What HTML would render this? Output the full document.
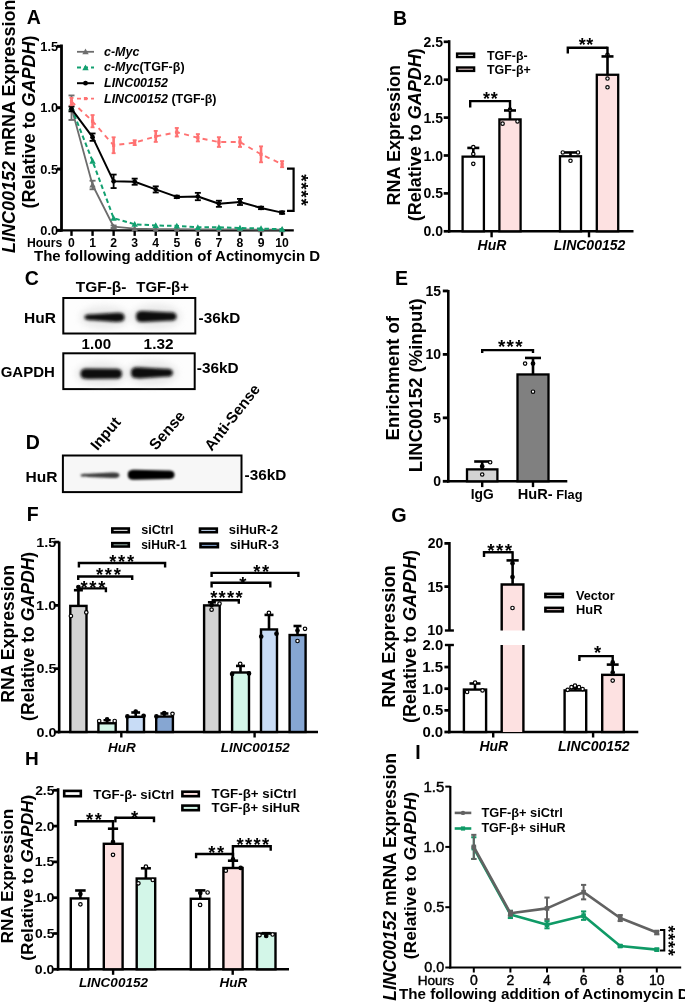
<!DOCTYPE html><html><head><meta charset="utf-8"><style>html,body{margin:0;padding:0;background:#fff;}svg{display:block;filter:blur(0.45px);}text{font-family:"Liberation Sans", sans-serif;}</style></head><body>
<svg width="685" height="1004" viewBox="0 0 685 1004">
<defs><filter id="blur1" x="-20%" y="-50%" width="140%" height="200%"><feGaussianBlur stdDeviation="1.6"/></filter><filter id="blur2" x="-20%" y="-50%" width="140%" height="200%"><feGaussianBlur stdDeviation="1.1"/></filter><filter id="blur3" x="-30%" y="-80%" width="160%" height="260%"><feGaussianBlur stdDeviation="3"/></filter></defs>
<rect width="685" height="1004" fill="#fff"/>
<text x="26.80" y="24.40" font-size="19.5" text-anchor="start" font-weight="bold" font-style="normal" fill="#000">A</text>
<line x1="61.50" y1="44.50" x2="61.50" y2="231.60" stroke="#000" stroke-width="2.8"/>
<line x1="57.00" y1="230.40" x2="61.50" y2="230.40" stroke="#000" stroke-width="3.024"/>
<text x="58.10" y="234.90" font-size="12.8" text-anchor="end" font-weight="bold" font-style="normal" fill="#000">0.0</text>
<line x1="57.00" y1="169.05" x2="61.50" y2="169.05" stroke="#000" stroke-width="3.024"/>
<text x="58.10" y="173.55" font-size="12.8" text-anchor="end" font-weight="bold" font-style="normal" fill="#000">0.5</text>
<line x1="57.00" y1="107.70" x2="61.50" y2="107.70" stroke="#000" stroke-width="3.024"/>
<text x="58.10" y="112.20" font-size="12.8" text-anchor="end" font-weight="bold" font-style="normal" fill="#000">1.0</text>
<line x1="57.00" y1="46.35" x2="61.50" y2="46.35" stroke="#000" stroke-width="3.024"/>
<text x="58.10" y="50.85" font-size="12.8" text-anchor="end" font-weight="bold" font-style="normal" fill="#000">1.5</text>
<line x1="60.20" y1="230.40" x2="293.80" y2="230.40" stroke="#000" stroke-width="2.4"/>
<line x1="71.50" y1="230.40" x2="71.50" y2="235.90" stroke="#000" stroke-width="2.4"/>
<text x="71.50" y="247.20" font-size="12.2" text-anchor="middle" font-weight="bold" font-style="normal" fill="#000">0</text>
<line x1="92.56" y1="230.40" x2="92.56" y2="235.90" stroke="#000" stroke-width="2.4"/>
<text x="92.56" y="247.20" font-size="12.2" text-anchor="middle" font-weight="bold" font-style="normal" fill="#000">1</text>
<line x1="113.62" y1="230.40" x2="113.62" y2="235.90" stroke="#000" stroke-width="2.4"/>
<text x="113.62" y="247.20" font-size="12.2" text-anchor="middle" font-weight="bold" font-style="normal" fill="#000">2</text>
<line x1="134.68" y1="230.40" x2="134.68" y2="235.90" stroke="#000" stroke-width="2.4"/>
<text x="134.68" y="247.20" font-size="12.2" text-anchor="middle" font-weight="bold" font-style="normal" fill="#000">3</text>
<line x1="155.74" y1="230.40" x2="155.74" y2="235.90" stroke="#000" stroke-width="2.4"/>
<text x="155.74" y="247.20" font-size="12.2" text-anchor="middle" font-weight="bold" font-style="normal" fill="#000">4</text>
<line x1="176.80" y1="230.40" x2="176.80" y2="235.90" stroke="#000" stroke-width="2.4"/>
<text x="176.80" y="247.20" font-size="12.2" text-anchor="middle" font-weight="bold" font-style="normal" fill="#000">5</text>
<line x1="197.86" y1="230.40" x2="197.86" y2="235.90" stroke="#000" stroke-width="2.4"/>
<text x="197.86" y="247.20" font-size="12.2" text-anchor="middle" font-weight="bold" font-style="normal" fill="#000">6</text>
<line x1="218.92" y1="230.40" x2="218.92" y2="235.90" stroke="#000" stroke-width="2.4"/>
<text x="218.92" y="247.20" font-size="12.2" text-anchor="middle" font-weight="bold" font-style="normal" fill="#000">7</text>
<line x1="239.98" y1="230.40" x2="239.98" y2="235.90" stroke="#000" stroke-width="2.4"/>
<text x="239.98" y="247.20" font-size="12.2" text-anchor="middle" font-weight="bold" font-style="normal" fill="#000">8</text>
<line x1="261.04" y1="230.40" x2="261.04" y2="235.90" stroke="#000" stroke-width="2.4"/>
<text x="261.04" y="247.20" font-size="12.2" text-anchor="middle" font-weight="bold" font-style="normal" fill="#000">9</text>
<line x1="282.10" y1="230.40" x2="282.10" y2="235.90" stroke="#000" stroke-width="2.4"/>
<text x="282.10" y="247.20" font-size="12.2" text-anchor="middle" font-weight="bold" font-style="normal" fill="#000">10</text>
<text x="62.20" y="247.00" font-size="12.2" text-anchor="end" font-weight="bold" font-style="normal" fill="#000">Hours</text>
<text x="34.00" y="260.80" font-size="15" text-anchor="start" font-weight="bold" font-style="normal" fill="#000">The following addition of Actinomycin D</text>
<text x="15.20" y="253.00" font-size="18" text-anchor="start" font-weight="bold" font-style="normal" fill="#000" transform="rotate(-90 15.20 253.00)"><tspan font-style="italic">LINC00152</tspan> mRNA Expression</text>
<text x="35.00" y="208.50" font-size="18" text-anchor="start" font-weight="bold" font-style="normal" fill="#000" transform="rotate(-90 35.00 208.50)">(Relative to <tspan font-style="italic">GAPDH</tspan>)</text>
<polyline points="71.50,107.70 92.56,185.00 113.62,226.72 134.68,228.56 155.74,229.17 176.80,229.17 197.86,229.42 218.92,229.42 239.98,229.42 261.04,229.66 282.10,229.66" fill="none" stroke="#6d6d6d" stroke-width="1.8" stroke-linejoin="round"/>
<line x1="71.50" y1="119.97" x2="71.50" y2="95.43" stroke="#6d6d6d" stroke-width="1.8"/>
<line x1="68.50" y1="95.43" x2="74.50" y2="95.43" stroke="#6d6d6d" stroke-width="1.8"/>
<line x1="68.50" y1="119.97" x2="74.50" y2="119.97" stroke="#6d6d6d" stroke-width="1.8"/>
<polygon points="71.50,104.50 74.70,110.26 68.30,110.26" fill="#6d6d6d"/>
<line x1="92.56" y1="189.30" x2="92.56" y2="180.71" stroke="#6d6d6d" stroke-width="1.8"/>
<line x1="89.56" y1="180.71" x2="95.56" y2="180.71" stroke="#6d6d6d" stroke-width="1.8"/>
<line x1="89.56" y1="189.30" x2="95.56" y2="189.30" stroke="#6d6d6d" stroke-width="1.8"/>
<polygon points="92.56,181.80 95.76,187.56 89.36,187.56" fill="#6d6d6d"/>
<line x1="113.62" y1="227.95" x2="113.62" y2="225.49" stroke="#6d6d6d" stroke-width="1.8"/>
<line x1="110.62" y1="225.49" x2="116.62" y2="225.49" stroke="#6d6d6d" stroke-width="1.8"/>
<line x1="110.62" y1="227.95" x2="116.62" y2="227.95" stroke="#6d6d6d" stroke-width="1.8"/>
<polygon points="113.62,223.52 116.82,229.28 110.42,229.28" fill="#6d6d6d"/>
<polygon points="134.68,225.36 137.88,231.12 131.48,231.12" fill="#6d6d6d"/>
<polygon points="155.74,225.97 158.94,231.73 152.54,231.73" fill="#6d6d6d"/>
<polygon points="176.80,225.97 180.00,231.73 173.60,231.73" fill="#6d6d6d"/>
<polygon points="197.86,226.22 201.06,231.98 194.66,231.98" fill="#6d6d6d"/>
<polygon points="218.92,226.22 222.12,231.98 215.72,231.98" fill="#6d6d6d"/>
<polygon points="239.98,226.22 243.18,231.98 236.78,231.98" fill="#6d6d6d"/>
<polygon points="261.04,226.46 264.24,232.22 257.84,232.22" fill="#6d6d6d"/>
<polygon points="282.10,226.46 285.30,232.22 278.90,232.22" fill="#6d6d6d"/>
<polyline points="71.50,107.70 92.56,161.07 113.62,218.13 134.68,224.27 155.74,225.49 176.80,225.86 197.86,227.33 218.92,227.33 239.98,227.95 261.04,228.56 282.10,229.17" fill="none" stroke="#12a070" stroke-width="2.0" stroke-dasharray="4.5,3" stroke-linejoin="round"/>
<polygon points="71.50,104.50 74.70,110.26 68.30,110.26" fill="#12a070"/>
<polygon points="92.56,157.87 95.76,163.63 89.36,163.63" fill="#12a070"/>
<polygon points="113.62,214.93 116.82,220.69 110.42,220.69" fill="#12a070"/>
<polygon points="134.68,221.07 137.88,226.83 131.48,226.83" fill="#12a070"/>
<polygon points="155.74,222.29 158.94,228.05 152.54,228.05" fill="#12a070"/>
<polygon points="176.80,222.66 180.00,228.42 173.60,228.42" fill="#12a070"/>
<polygon points="197.86,224.13 201.06,229.89 194.66,229.89" fill="#12a070"/>
<polygon points="218.92,224.13 222.12,229.89 215.72,229.89" fill="#12a070"/>
<polygon points="239.98,224.75 243.18,230.51 236.78,230.51" fill="#12a070"/>
<polygon points="261.04,225.36 264.24,231.12 257.84,231.12" fill="#12a070"/>
<polygon points="282.10,225.97 285.30,231.73 278.90,231.73" fill="#12a070"/>
<polyline points="71.50,108.93 92.56,137.15 113.62,181.32 134.68,181.69 155.74,189.42 176.80,196.90 197.86,196.53 218.92,203.77 239.98,201.93 261.04,207.95 282.10,212.61" fill="none" stroke="#000" stroke-width="2.0" stroke-linejoin="round"/>
<line x1="71.50" y1="111.38" x2="71.50" y2="106.47" stroke="#000" stroke-width="1.8"/>
<line x1="68.50" y1="106.47" x2="74.50" y2="106.47" stroke="#000" stroke-width="1.8"/>
<line x1="68.50" y1="111.38" x2="74.50" y2="111.38" stroke="#000" stroke-width="1.8"/>
<circle cx="71.50" cy="108.93" r="2.4" fill="#000"/>
<line x1="92.56" y1="140.83" x2="92.56" y2="133.47" stroke="#000" stroke-width="1.8"/>
<line x1="89.56" y1="133.47" x2="95.56" y2="133.47" stroke="#000" stroke-width="1.8"/>
<line x1="89.56" y1="140.83" x2="95.56" y2="140.83" stroke="#000" stroke-width="1.8"/>
<circle cx="92.56" cy="137.15" r="2.4" fill="#000"/>
<line x1="113.62" y1="188.07" x2="113.62" y2="174.57" stroke="#000" stroke-width="1.8"/>
<line x1="110.62" y1="174.57" x2="116.62" y2="174.57" stroke="#000" stroke-width="1.8"/>
<line x1="110.62" y1="188.07" x2="116.62" y2="188.07" stroke="#000" stroke-width="1.8"/>
<circle cx="113.62" cy="181.32" r="2.4" fill="#000"/>
<line x1="134.68" y1="184.76" x2="134.68" y2="178.62" stroke="#000" stroke-width="1.8"/>
<line x1="131.68" y1="178.62" x2="137.68" y2="178.62" stroke="#000" stroke-width="1.8"/>
<line x1="131.68" y1="184.76" x2="137.68" y2="184.76" stroke="#000" stroke-width="1.8"/>
<circle cx="134.68" cy="181.69" r="2.4" fill="#000"/>
<line x1="155.74" y1="192.49" x2="155.74" y2="186.35" stroke="#000" stroke-width="1.8"/>
<line x1="152.74" y1="186.35" x2="158.74" y2="186.35" stroke="#000" stroke-width="1.8"/>
<line x1="152.74" y1="192.49" x2="158.74" y2="192.49" stroke="#000" stroke-width="1.8"/>
<circle cx="155.74" cy="189.42" r="2.4" fill="#000"/>
<line x1="176.80" y1="198.13" x2="176.80" y2="195.68" stroke="#000" stroke-width="1.8"/>
<line x1="173.80" y1="195.68" x2="179.80" y2="195.68" stroke="#000" stroke-width="1.8"/>
<line x1="173.80" y1="198.13" x2="179.80" y2="198.13" stroke="#000" stroke-width="1.8"/>
<circle cx="176.80" cy="196.90" r="2.4" fill="#000"/>
<line x1="197.86" y1="200.22" x2="197.86" y2="192.85" stroke="#000" stroke-width="1.8"/>
<line x1="194.86" y1="192.85" x2="200.86" y2="192.85" stroke="#000" stroke-width="1.8"/>
<line x1="194.86" y1="200.22" x2="200.86" y2="200.22" stroke="#000" stroke-width="1.8"/>
<circle cx="197.86" cy="196.53" r="2.4" fill="#000"/>
<line x1="218.92" y1="206.84" x2="218.92" y2="200.71" stroke="#000" stroke-width="1.8"/>
<line x1="215.92" y1="200.71" x2="221.92" y2="200.71" stroke="#000" stroke-width="1.8"/>
<line x1="215.92" y1="206.84" x2="221.92" y2="206.84" stroke="#000" stroke-width="1.8"/>
<circle cx="218.92" cy="203.77" r="2.4" fill="#000"/>
<line x1="239.98" y1="205.00" x2="239.98" y2="198.87" stroke="#000" stroke-width="1.8"/>
<line x1="236.98" y1="198.87" x2="242.98" y2="198.87" stroke="#000" stroke-width="1.8"/>
<line x1="236.98" y1="205.00" x2="242.98" y2="205.00" stroke="#000" stroke-width="1.8"/>
<circle cx="239.98" cy="201.93" r="2.4" fill="#000"/>
<line x1="261.04" y1="209.17" x2="261.04" y2="206.72" stroke="#000" stroke-width="1.8"/>
<line x1="258.04" y1="206.72" x2="264.04" y2="206.72" stroke="#000" stroke-width="1.8"/>
<line x1="258.04" y1="209.17" x2="264.04" y2="209.17" stroke="#000" stroke-width="1.8"/>
<circle cx="261.04" cy="207.95" r="2.4" fill="#000"/>
<line x1="282.10" y1="213.84" x2="282.10" y2="211.38" stroke="#000" stroke-width="1.8"/>
<line x1="279.10" y1="211.38" x2="285.10" y2="211.38" stroke="#000" stroke-width="1.8"/>
<line x1="279.10" y1="213.84" x2="285.10" y2="213.84" stroke="#000" stroke-width="1.8"/>
<circle cx="282.10" cy="212.61" r="2.4" fill="#000"/>
<polyline points="71.50,101.56 92.56,121.20 113.62,145.25 134.68,142.67 155.74,136.41 176.80,132.24 197.86,137.76 218.92,142.06 239.98,142.06 261.04,154.33 282.10,164.14" fill="none" stroke="#ff7272" stroke-width="1.9" stroke-dasharray="5,4.5" stroke-linejoin="round"/>
<line x1="71.50" y1="105.25" x2="71.50" y2="97.88" stroke="#ff7272" stroke-width="2.6"/>
<line x1="69.50" y1="97.88" x2="73.50" y2="97.88" stroke="#ff7272" stroke-width="1.8"/>
<line x1="69.50" y1="105.25" x2="73.50" y2="105.25" stroke="#ff7272" stroke-width="1.8"/>
<rect x="69.90" y="99.97" width="3.20" height="3.20" fill="#ff7272"/>
<line x1="92.56" y1="127.33" x2="92.56" y2="115.06" stroke="#ff7272" stroke-width="2.6"/>
<line x1="90.56" y1="115.06" x2="94.56" y2="115.06" stroke="#ff7272" stroke-width="1.8"/>
<line x1="90.56" y1="127.33" x2="94.56" y2="127.33" stroke="#ff7272" stroke-width="1.8"/>
<rect x="90.96" y="119.60" width="3.20" height="3.20" fill="#ff7272"/>
<line x1="113.62" y1="153.22" x2="113.62" y2="137.27" stroke="#ff7272" stroke-width="2.6"/>
<line x1="111.62" y1="137.27" x2="115.62" y2="137.27" stroke="#ff7272" stroke-width="1.8"/>
<line x1="111.62" y1="153.22" x2="115.62" y2="153.22" stroke="#ff7272" stroke-width="1.8"/>
<rect x="112.02" y="143.65" width="3.20" height="3.20" fill="#ff7272"/>
<line x1="134.68" y1="145.12" x2="134.68" y2="140.22" stroke="#ff7272" stroke-width="2.6"/>
<line x1="132.68" y1="140.22" x2="136.68" y2="140.22" stroke="#ff7272" stroke-width="1.8"/>
<line x1="132.68" y1="145.12" x2="136.68" y2="145.12" stroke="#ff7272" stroke-width="1.8"/>
<rect x="133.08" y="141.07" width="3.20" height="3.20" fill="#ff7272"/>
<line x1="155.74" y1="141.93" x2="155.74" y2="130.89" stroke="#ff7272" stroke-width="2.6"/>
<line x1="153.74" y1="130.89" x2="157.74" y2="130.89" stroke="#ff7272" stroke-width="1.8"/>
<line x1="153.74" y1="141.93" x2="157.74" y2="141.93" stroke="#ff7272" stroke-width="1.8"/>
<rect x="154.14" y="134.81" width="3.20" height="3.20" fill="#ff7272"/>
<line x1="176.80" y1="136.53" x2="176.80" y2="127.95" stroke="#ff7272" stroke-width="2.6"/>
<line x1="174.80" y1="127.95" x2="178.80" y2="127.95" stroke="#ff7272" stroke-width="1.8"/>
<line x1="174.80" y1="136.53" x2="178.80" y2="136.53" stroke="#ff7272" stroke-width="1.8"/>
<rect x="175.20" y="130.64" width="3.20" height="3.20" fill="#ff7272"/>
<line x1="197.86" y1="141.44" x2="197.86" y2="134.08" stroke="#ff7272" stroke-width="2.6"/>
<line x1="195.86" y1="134.08" x2="199.86" y2="134.08" stroke="#ff7272" stroke-width="1.8"/>
<line x1="195.86" y1="141.44" x2="199.86" y2="141.44" stroke="#ff7272" stroke-width="1.8"/>
<rect x="196.26" y="136.16" width="3.20" height="3.20" fill="#ff7272"/>
<line x1="218.92" y1="146.96" x2="218.92" y2="137.15" stroke="#ff7272" stroke-width="2.6"/>
<line x1="216.92" y1="137.15" x2="220.92" y2="137.15" stroke="#ff7272" stroke-width="1.8"/>
<line x1="216.92" y1="146.96" x2="220.92" y2="146.96" stroke="#ff7272" stroke-width="1.8"/>
<rect x="217.32" y="140.46" width="3.20" height="3.20" fill="#ff7272"/>
<line x1="239.98" y1="146.96" x2="239.98" y2="137.15" stroke="#ff7272" stroke-width="2.6"/>
<line x1="237.98" y1="137.15" x2="241.98" y2="137.15" stroke="#ff7272" stroke-width="1.8"/>
<line x1="237.98" y1="146.96" x2="241.98" y2="146.96" stroke="#ff7272" stroke-width="1.8"/>
<rect x="238.38" y="140.46" width="3.20" height="3.20" fill="#ff7272"/>
<line x1="261.04" y1="162.30" x2="261.04" y2="146.35" stroke="#ff7272" stroke-width="2.6"/>
<line x1="259.04" y1="146.35" x2="263.04" y2="146.35" stroke="#ff7272" stroke-width="1.8"/>
<line x1="259.04" y1="162.30" x2="263.04" y2="162.30" stroke="#ff7272" stroke-width="1.8"/>
<rect x="259.44" y="152.73" width="3.20" height="3.20" fill="#ff7272"/>
<line x1="282.10" y1="167.21" x2="282.10" y2="161.07" stroke="#ff7272" stroke-width="2.6"/>
<line x1="280.10" y1="161.07" x2="284.10" y2="161.07" stroke="#ff7272" stroke-width="1.8"/>
<line x1="280.10" y1="167.21" x2="284.10" y2="167.21" stroke="#ff7272" stroke-width="1.8"/>
<rect x="280.50" y="162.54" width="3.20" height="3.20" fill="#ff7272"/>
<line x1="77.00" y1="51.80" x2="94.00" y2="51.80" stroke="#6d6d6d" stroke-width="1.8"/>
<polygon points="85.50,48.60 88.70,54.36 82.30,54.36" fill="#6d6d6d"/>
<line x1="77.00" y1="67.60" x2="94.00" y2="67.60" stroke="#12a070" stroke-width="2.0" stroke-dasharray="4,3"/>
<polygon points="85.50,64.40 88.70,70.16 82.30,70.16" fill="#12a070"/>
<line x1="77.00" y1="83.20" x2="94.00" y2="83.20" stroke="#000" stroke-width="2.0"/>
<circle cx="85.50" cy="83.20" r="2.4" fill="#000"/>
<line x1="77.00" y1="98.60" x2="94.00" y2="98.60" stroke="#ff7272" stroke-width="1.6" stroke-dasharray="4,3"/>
<rect x="83.90" y="97.00" width="3.20" height="3.20" fill="#ff7272"/>
<text x="104.00" y="56.40" font-size="12.5" text-anchor="start" font-weight="bold" font-style="normal" fill="#000"><tspan font-style="italic">c-Myc</tspan></text>
<text x="104.00" y="71.20" font-size="12.5" text-anchor="start" font-weight="bold" font-style="normal" fill="#000"><tspan font-style="italic">c-Myc</tspan>(TGF-β)</text>
<text x="104.00" y="87.00" font-size="12.5" text-anchor="start" font-weight="bold" font-style="normal" fill="#000"><tspan font-style="italic">LINC00152</tspan></text>
<text x="104.00" y="102.80" font-size="12.5" text-anchor="start" font-weight="bold" font-style="normal" fill="#000"><tspan font-style="italic">LINC00152</tspan> (TGF-β)</text>
<polyline points="287,168.6 293.6,168.6 293.6,210.8 287,210.8" fill="none" stroke="#000" stroke-width="2.2"/>
<text x="0" y="0" font-size="18.86" text-anchor="middle" font-weight="bold" letter-spacing="0.70" transform="translate(295.19 190.35) rotate(90)">****</text>
<text x="393.00" y="24.70" font-size="19.5" text-anchor="start" font-weight="bold" font-style="normal" fill="#000">B</text>
<line x1="449.20" y1="40.20" x2="449.20" y2="232.60" stroke="#000" stroke-width="2.5"/>
<line x1="443.70" y1="231.30" x2="449.20" y2="231.30" stroke="#000" stroke-width="2.7"/>
<text x="443.00" y="236.30" font-size="14" text-anchor="end" font-weight="bold" font-style="normal" fill="#000">0.0</text>
<line x1="443.70" y1="193.40" x2="449.20" y2="193.40" stroke="#000" stroke-width="2.7"/>
<text x="443.00" y="198.40" font-size="14" text-anchor="end" font-weight="bold" font-style="normal" fill="#000">0.5</text>
<line x1="443.70" y1="155.50" x2="449.20" y2="155.50" stroke="#000" stroke-width="2.7"/>
<text x="443.00" y="160.50" font-size="14" text-anchor="end" font-weight="bold" font-style="normal" fill="#000">1.0</text>
<line x1="443.70" y1="117.60" x2="449.20" y2="117.60" stroke="#000" stroke-width="2.7"/>
<text x="443.00" y="122.60" font-size="14" text-anchor="end" font-weight="bold" font-style="normal" fill="#000">1.5</text>
<line x1="443.70" y1="79.70" x2="449.20" y2="79.70" stroke="#000" stroke-width="2.7"/>
<text x="443.00" y="84.70" font-size="14" text-anchor="end" font-weight="bold" font-style="normal" fill="#000">2.0</text>
<line x1="443.70" y1="41.80" x2="449.20" y2="41.80" stroke="#000" stroke-width="2.7"/>
<text x="443.00" y="46.80" font-size="14" text-anchor="end" font-weight="bold" font-style="normal" fill="#000">2.5</text>
<line x1="448.00" y1="231.30" x2="633.50" y2="231.30" stroke="#000" stroke-width="2.4"/>
<line x1="491.60" y1="231.30" x2="491.60" y2="237.30" stroke="#000" stroke-width="2.4"/>
<line x1="589.00" y1="231.30" x2="589.00" y2="237.30" stroke="#000" stroke-width="2.4"/>
<rect x="462.60" y="156.64" width="21.30" height="74.66" fill="#fff" stroke="#000" stroke-width="2.3"/>
<rect x="499.40" y="119.42" width="21.20" height="111.88" fill="#fde1e1" stroke="#000" stroke-width="2.3"/>
<rect x="560.00" y="156.26" width="21.00" height="75.04" fill="#fff" stroke="#000" stroke-width="2.3"/>
<rect x="596.80" y="74.77" width="21.40" height="156.53" fill="#fde1e1" stroke="#000" stroke-width="2.3"/>
<line x1="473.30" y1="156.64" x2="473.30" y2="147.92" stroke="#000" stroke-width="2.6"/>
<line x1="467.30" y1="147.92" x2="479.30" y2="147.92" stroke="#000" stroke-width="2.6"/>
<line x1="510.00" y1="119.42" x2="510.00" y2="110.47" stroke="#000" stroke-width="2.6"/>
<line x1="504.00" y1="110.47" x2="516.00" y2="110.47" stroke="#000" stroke-width="2.6"/>
<line x1="570.50" y1="156.26" x2="570.50" y2="152.47" stroke="#000" stroke-width="2.6"/>
<line x1="564.50" y1="152.47" x2="576.50" y2="152.47" stroke="#000" stroke-width="2.6"/>
<line x1="607.50" y1="74.77" x2="607.50" y2="56.43" stroke="#000" stroke-width="2.6"/>
<line x1="601.50" y1="56.43" x2="613.50" y2="56.43" stroke="#000" stroke-width="2.6"/>
<circle cx="473.30" cy="163.84" r="1.7" fill="#fff" stroke="#000" stroke-width="1.2"/>
<circle cx="473.30" cy="153.98" r="1.7" fill="#fff" stroke="#000" stroke-width="1.2"/>
<circle cx="473.30" cy="147.16" r="1.7" fill="#fff" stroke="#000" stroke-width="1.2"/>
<circle cx="502.60" cy="123.66" r="1.7" fill="#fff" stroke="#000" stroke-width="1.2"/>
<circle cx="517.50" cy="121.39" r="1.7" fill="#fff" stroke="#000" stroke-width="1.2"/>
<circle cx="510.00" cy="109.64" r="1.7" fill="#fff" stroke="#000" stroke-width="1.2"/>
<circle cx="562.80" cy="152.47" r="1.7" fill="#fff" stroke="#000" stroke-width="1.2"/>
<circle cx="578.00" cy="152.47" r="1.7" fill="#fff" stroke="#000" stroke-width="1.2"/>
<circle cx="570.50" cy="160.81" r="1.7" fill="#fff" stroke="#000" stroke-width="1.2"/>
<circle cx="607.50" cy="54.69" r="1.7" fill="#fff" stroke="#000" stroke-width="1.2"/>
<circle cx="607.50" cy="78.56" r="1.7" fill="#fff" stroke="#000" stroke-width="1.2"/>
<circle cx="607.50" cy="87.28" r="1.7" fill="#fff" stroke="#000" stroke-width="1.2"/>
<polyline points="470.20,107.50 470.20,101.10 510.00,101.10" fill="none" stroke="#000" stroke-width="2.4" stroke-linejoin="miter" stroke-linecap="butt"/>
<line x1="510.00" y1="100.00" x2="510.00" y2="110.47" stroke="#000" stroke-width="2.4"/>
<text x="490.65" y="105.43" font-size="17.94" text-anchor="middle" font-weight="bold" font-style="normal" fill="#000" letter-spacing="0.70">**</text>
<polyline points="567.80,53.40 567.80,47.80 607.50,47.80" fill="none" stroke="#000" stroke-width="2.4" stroke-linejoin="miter" stroke-linecap="butt"/>
<line x1="607.50" y1="46.70" x2="607.50" y2="56.43" stroke="#000" stroke-width="2.4"/>
<text x="586.35" y="51.23" font-size="17.94" text-anchor="middle" font-weight="bold" font-style="normal" fill="#000" letter-spacing="0.70">**</text>
<rect x="457.10" y="53.60" width="17.00" height="3.40" fill="#fff" stroke="#000" stroke-width="2.4"/>
<rect x="457.10" y="67.50" width="17.00" height="3.40" fill="#fde1e1" stroke="#000" stroke-width="2.4"/>
<text x="487.00" y="60.30" font-size="12.4" text-anchor="start" font-weight="bold" font-style="normal" fill="#000">TGF-β-</text>
<text x="487.00" y="74.30" font-size="12.4" text-anchor="start" font-weight="bold" font-style="normal" fill="#000">TGF-β+</text>
<text x="492.00" y="250.00" font-size="14" text-anchor="middle" font-weight="bold" font-style="italic" fill="#000">HuR</text>
<text x="589.50" y="250.00" font-size="14" text-anchor="middle" font-weight="bold" font-style="italic" fill="#000">LINC00152</text>
<text x="399.60" y="135.20" font-size="18" text-anchor="middle" font-weight="bold" font-style="normal" fill="#000" transform="rotate(-90 399.60 135.20)">RNA Expression</text>
<text x="421.00" y="134.70" font-size="18" text-anchor="middle" font-weight="bold" font-style="normal" fill="#000" transform="rotate(-90 421.00 134.70)">(Relative to <tspan font-style="italic">GAPDH</tspan>)</text>
<text x="24.80" y="285.20" font-size="19.5" text-anchor="start" font-weight="bold" font-style="normal" fill="#000">C</text>
<text x="75.80" y="292.10" font-size="14.6" text-anchor="start" font-weight="bold" font-style="normal" fill="#000" textLength="50.66" lengthAdjust="spacingAndGlyphs">TGF-β-</text>
<text x="136.30" y="292.10" font-size="14.6" text-anchor="start" font-weight="bold" font-style="normal" fill="#000" textLength="52.65" lengthAdjust="spacingAndGlyphs">TGF-β+</text>
<rect x="63.3" y="298.0" width="132.0" height="35.5" fill="#fdfdfd" stroke="#000" stroke-width="2.0"/>
<text x="24.00" y="323.10" font-size="15" text-anchor="start" font-weight="bold" font-style="normal" fill="#000" textLength="31.88" lengthAdjust="spacingAndGlyphs">HuR</text>
<ellipse cx="104.50" cy="317.30" rx="25.00" ry="11.60" fill="#dcdcdc" filter="url(#blur3)" opacity="0.55"/>
<path d="M84.50,317.30 C84.50,314.30 88.50,314.30 92.50,314.30 L116.50,312.70 C120.50,312.70 124.50,312.70 124.50,317.30 C124.50,321.90 120.50,321.90 116.50,321.90 L92.50,320.30 C88.50,320.30 84.50,320.30 84.50,317.30 Z" fill="#0a0a0a" filter="url(#blur1)"/>
<ellipse cx="156.25" cy="316.50" rx="25.25" ry="12.60" fill="#dcdcdc" filter="url(#blur3)" opacity="0.55"/>
<path d="M136.00,316.50 C136.00,310.90 140.00,310.90 144.00,310.90 L168.50,312.30 C172.50,312.30 176.50,312.30 176.50,316.50 C176.50,320.70 172.50,320.70 168.50,320.70 L144.00,322.10 C140.00,322.10 136.00,322.10 136.00,316.50 Z" fill="#0a0a0a" filter="url(#blur1)"/>
<text x="198.60" y="323.00" font-size="15.3" text-anchor="start" font-weight="bold" font-style="normal" fill="#000" textLength="41.68" lengthAdjust="spacingAndGlyphs">-36kD</text>
<text x="81.60" y="348.60" font-size="14.6" text-anchor="start" font-weight="bold" font-style="normal" fill="#000" textLength="29.45" lengthAdjust="spacingAndGlyphs">1.00</text>
<text x="143.60" y="348.60" font-size="14.6" text-anchor="start" font-weight="bold" font-style="normal" fill="#000" textLength="29.88" lengthAdjust="spacingAndGlyphs">1.32</text>
<rect x="63.3" y="353.3" width="131.4" height="35.8" fill="#fdfdfd" stroke="#000" stroke-width="2.0"/>
<text x="0.70" y="376.60" font-size="15" text-anchor="start" font-weight="bold" font-style="normal" fill="#000" textLength="54.07" lengthAdjust="spacingAndGlyphs">GAPDH</text>
<ellipse cx="101.25" cy="373.80" rx="25.75" ry="12.20" fill="#dcdcdc" filter="url(#blur3)" opacity="0.55"/>
<path d="M80.50,373.80 C80.50,368.60 84.50,368.60 88.50,368.60 L114.00,368.80 C118.00,368.80 122.00,368.80 122.00,373.80 C122.00,378.80 118.00,378.80 114.00,378.80 L88.50,379.00 C84.50,379.00 80.50,379.00 80.50,373.80 Z" fill="#0a0a0a" filter="url(#blur1)"/>
<ellipse cx="151.90" cy="372.80" rx="25.90" ry="12.60" fill="#dcdcdc" filter="url(#blur3)" opacity="0.55"/>
<path d="M131.00,372.80 C131.00,367.20 135.00,367.20 139.00,367.20 L164.80,368.80 C168.80,368.80 172.80,368.80 172.80,372.80 C172.80,376.80 168.80,376.80 164.80,376.80 L139.00,378.40 C135.00,378.40 131.00,378.40 131.00,372.80 Z" fill="#0a0a0a" filter="url(#blur1)"/>
<text x="196.80" y="373.30" font-size="15.3" text-anchor="start" font-weight="bold" font-style="normal" fill="#000" textLength="41.88" lengthAdjust="spacingAndGlyphs">-36kD</text>
<text x="25.80" y="448.50" font-size="19.5" text-anchor="start" font-weight="bold" font-style="normal" fill="#000">D</text>
<rect x="62.9" y="455.5" width="178.6" height="36.6" fill="#f7f7f7" stroke="#000" stroke-width="2.0"/>
<text x="25.60" y="481.90" font-size="15" text-anchor="start" font-weight="bold" font-style="normal" fill="#000" textLength="31.98" lengthAdjust="spacingAndGlyphs">HuR</text>
<path d="M80.50,475.30 C80.50,473.70 84.50,473.70 88.50,473.70 L111.50,472.50 C115.50,472.50 119.50,472.50 119.50,475.30 C119.50,478.10 115.50,478.10 111.50,478.10 L88.50,476.90 C84.50,476.90 80.50,476.90 80.50,475.30 Z" fill="#3a3a3a" filter="url(#blur2)"/>
<path d="M127.80,474.80 C127.80,469.80 131.80,469.80 135.80,469.80 L166.50,470.60 C170.50,470.60 174.50,470.60 174.50,474.80 C174.50,479.00 170.50,479.00 166.50,479.00 L135.80,479.80 C131.80,479.80 127.80,479.80 127.80,474.80 Z" fill="#000" filter="url(#blur2)"/>
<text x="244.60" y="480.00" font-size="15.3" text-anchor="start" font-weight="bold" font-style="normal" fill="#000" textLength="41.68" lengthAdjust="spacingAndGlyphs">-36kD</text>
<text x="97.40" y="451.20" font-size="15.3" text-anchor="start" font-weight="bold" font-style="normal" fill="#000" transform="rotate(-50 97.40 451.20)">Input</text>
<text x="156.00" y="451.00" font-size="15.5" text-anchor="start" font-weight="bold" font-style="normal" fill="#000" transform="rotate(-49 156.00 451.00)">Sense</text>
<text x="211.80" y="451.80" font-size="15.2" text-anchor="start" font-weight="bold" font-style="normal" fill="#000" transform="rotate(-52 211.80 451.80)">Anti-Sense</text>
<text x="395.00" y="285.40" font-size="19.5" text-anchor="start" font-weight="bold" font-style="normal" fill="#000">E</text>
<line x1="448.30" y1="290.00" x2="448.30" y2="482.60" stroke="#000" stroke-width="2.6"/>
<line x1="442.80" y1="481.30" x2="448.30" y2="481.30" stroke="#000" stroke-width="2.8080000000000003"/>
<text x="441.10" y="486.30" font-size="14" text-anchor="end" font-weight="bold" font-style="normal" fill="#000">0</text>
<line x1="442.80" y1="417.85" x2="448.30" y2="417.85" stroke="#000" stroke-width="2.8080000000000003"/>
<text x="441.10" y="422.85" font-size="14" text-anchor="end" font-weight="bold" font-style="normal" fill="#000">5</text>
<line x1="442.80" y1="354.40" x2="448.30" y2="354.40" stroke="#000" stroke-width="2.8080000000000003"/>
<text x="441.10" y="359.40" font-size="14" text-anchor="end" font-weight="bold" font-style="normal" fill="#000">10</text>
<line x1="442.80" y1="290.95" x2="448.30" y2="290.95" stroke="#000" stroke-width="2.8080000000000003"/>
<text x="441.10" y="295.95" font-size="14" text-anchor="end" font-weight="bold" font-style="normal" fill="#000">15</text>
<line x1="447.00" y1="481.30" x2="567.30" y2="481.30" stroke="#000" stroke-width="2.5"/>
<line x1="482.20" y1="481.30" x2="482.20" y2="487.10" stroke="#000" stroke-width="2.4"/>
<line x1="533.00" y1="481.30" x2="533.00" y2="487.10" stroke="#000" stroke-width="2.4"/>
<rect x="467.00" y="469.37" width="30.40" height="11.93" fill="#d3d3d3" stroke="#000" stroke-width="2.3"/>
<rect x="517.50" y="374.45" width="31.00" height="106.85" fill="#808080" stroke="#000" stroke-width="2.3"/>
<line x1="482.20" y1="469.37" x2="482.20" y2="461.50" stroke="#000" stroke-width="2.6"/>
<line x1="474.20" y1="461.50" x2="490.20" y2="461.50" stroke="#000" stroke-width="2.6"/>
<line x1="533.00" y1="374.45" x2="533.00" y2="357.95" stroke="#000" stroke-width="2.6"/>
<line x1="525.00" y1="357.95" x2="541.00" y2="357.95" stroke="#000" stroke-width="2.6"/>
<circle cx="482.20" cy="466.30" r="1.8" fill="#000" stroke="#000" stroke-width="1.2"/>
<circle cx="533.00" cy="363.60" r="1.8" fill="#000" stroke="#000" stroke-width="1.2"/>
<circle cx="490.20" cy="462.30" r="1.7" fill="#fff" stroke="#000" stroke-width="1.2"/>
<circle cx="482.20" cy="474.50" r="1.7" fill="#fff" stroke="#000" stroke-width="1.2"/>
<circle cx="525.10" cy="363.60" r="1.7" fill="#fff" stroke="#000" stroke-width="1.2"/>
<circle cx="533.00" cy="391.70" r="1.7" fill="#fff" stroke="#000" stroke-width="1.2"/>
<polyline points="482.20,353.10 482.20,350.10 533.00,350.10 533.00,353.10" fill="none" stroke="#000" stroke-width="2.4" stroke-linejoin="miter" stroke-linecap="butt"/>
<text x="510.85" y="353.31" font-size="18.86" text-anchor="middle" font-weight="bold" font-style="normal" fill="#000" letter-spacing="1.30">***</text>
<text x="482.20" y="499.30" font-size="14" text-anchor="middle" font-weight="bold" font-style="normal" fill="#000" textLength="23.05" lengthAdjust="spacingAndGlyphs">IgG</text>
<text x="517.80" y="499.40" font-size="14.6" text-anchor="start" font-weight="bold" font-style="normal" fill="#000">HuR-</text>
<text x="556.20" y="499.20" font-size="12.8" text-anchor="start" font-weight="bold" font-style="normal" fill="#000">Flag</text>
<text x="399.50" y="378.20" font-size="18.5" text-anchor="middle" font-weight="bold" font-style="normal" fill="#000" transform="rotate(-90 399.50 378.20)">Enrichment of</text>
<text x="422.00" y="385.30" font-size="18.5" text-anchor="middle" font-weight="bold" font-style="normal" fill="#000" transform="rotate(-90 422.00 385.30)">LINC00152 (%input)</text>
<text x="26.80" y="520.60" font-size="19.5" text-anchor="start" font-weight="bold" font-style="normal" fill="#000">F</text>
<line x1="59.20" y1="541.50" x2="59.20" y2="733.30" stroke="#000" stroke-width="2.6"/>
<line x1="54.20" y1="732.00" x2="59.20" y2="732.00" stroke="#000" stroke-width="2.75"/>
<text x="56.40" y="736.70" font-size="13.5" text-anchor="end" font-weight="bold" font-style="normal" fill="#000" textLength="19.95" lengthAdjust="spacingAndGlyphs">0.0</text>
<line x1="54.20" y1="668.70" x2="59.20" y2="668.70" stroke="#000" stroke-width="2.75"/>
<text x="56.40" y="673.40" font-size="13.5" text-anchor="end" font-weight="bold" font-style="normal" fill="#000" textLength="19.80" lengthAdjust="spacingAndGlyphs">0.5</text>
<line x1="54.20" y1="605.40" x2="59.20" y2="605.40" stroke="#000" stroke-width="2.75"/>
<text x="56.40" y="610.10" font-size="13.5" text-anchor="end" font-weight="bold" font-style="normal" fill="#000" textLength="20.26" lengthAdjust="spacingAndGlyphs">1.0</text>
<line x1="54.20" y1="542.10" x2="59.20" y2="542.10" stroke="#000" stroke-width="2.75"/>
<text x="56.40" y="546.80" font-size="13.5" text-anchor="end" font-weight="bold" font-style="normal" fill="#000" textLength="20.10" lengthAdjust="spacingAndGlyphs">1.5</text>
<line x1="58.00" y1="732.00" x2="318.00" y2="732.00" stroke="#000" stroke-width="2.5"/>
<line x1="121.30" y1="732.00" x2="121.30" y2="737.50" stroke="#000" stroke-width="2.4"/>
<line x1="254.60" y1="732.00" x2="254.60" y2="737.50" stroke="#000" stroke-width="2.4"/>
<rect x="70.30" y="605.91" width="16.20" height="126.09" fill="#d3d3d3" stroke="#000" stroke-width="2.4"/>
<rect x="98.40" y="723.26" width="17.30" height="8.74" fill="#d3f6e8" stroke="#000" stroke-width="2.4"/>
<rect x="127.30" y="716.81" width="16.70" height="15.19" fill="#c8dcf6" stroke="#000" stroke-width="2.4"/>
<rect x="156.20" y="716.55" width="16.70" height="15.45" fill="#86a6d2" stroke="#000" stroke-width="2.4"/>
<rect x="204.10" y="605.40" width="15.60" height="126.60" fill="#d3d3d3" stroke="#000" stroke-width="2.4"/>
<rect x="232.10" y="672.50" width="16.90" height="59.50" fill="#d3f6e8" stroke="#000" stroke-width="2.4"/>
<rect x="261.00" y="629.45" width="16.00" height="102.55" fill="#c8dcf6" stroke="#000" stroke-width="2.4"/>
<rect x="289.60" y="635.02" width="16.00" height="96.98" fill="#86a6d2" stroke="#000" stroke-width="2.4"/>
<line x1="78.40" y1="605.91" x2="78.40" y2="590.20" stroke="#000" stroke-width="2.6"/>
<line x1="73.90" y1="590.20" x2="82.90" y2="590.20" stroke="#000" stroke-width="2.6"/>
<circle cx="78.40" cy="587.00" r="1.75" fill="#000" stroke="#000" stroke-width="1.2"/>
<circle cx="70.90" cy="616.00" r="1.75" fill="#fff" stroke="#000" stroke-width="1.2"/>
<circle cx="86.30" cy="612.40" r="1.75" fill="#fff" stroke="#000" stroke-width="1.2"/>
<line x1="107.10" y1="723.26" x2="107.10" y2="719.00" stroke="#000" stroke-width="2.6"/>
<line x1="103.50" y1="720.20" x2="110.70" y2="720.20" stroke="#000" stroke-width="2.4"/>
<circle cx="99.20" cy="721.00" r="1.75" fill="#fff" stroke="#000" stroke-width="1.2"/>
<circle cx="107.10" cy="719.40" r="1.75" fill="#000" stroke="#000" stroke-width="1.2"/>
<circle cx="114.70" cy="721.00" r="1.75" fill="#fff" stroke="#000" stroke-width="1.2"/>
<line x1="135.70" y1="716.81" x2="135.70" y2="712.50" stroke="#000" stroke-width="2.6"/>
<line x1="131.30" y1="712.50" x2="140.10" y2="712.50" stroke="#000" stroke-width="2.6"/>
<circle cx="127.40" cy="716.40" r="1.75" fill="#000" stroke="#000" stroke-width="1.2"/>
<circle cx="143.60" cy="715.80" r="1.75" fill="#000" stroke="#000" stroke-width="1.2"/>
<circle cx="135.70" cy="711.60" r="1.75" fill="#000" stroke="#000" stroke-width="1.2"/>
<line x1="164.40" y1="716.55" x2="164.40" y2="713.50" stroke="#000" stroke-width="2.6"/>
<line x1="160.40" y1="713.50" x2="168.40" y2="713.50" stroke="#000" stroke-width="2.6"/>
<circle cx="156.40" cy="716.40" r="1.75" fill="#000" stroke="#000" stroke-width="1.2"/>
<circle cx="164.20" cy="713.10" r="1.75" fill="#000" stroke="#000" stroke-width="1.2"/>
<circle cx="172.50" cy="713.80" r="1.75" fill="#fff" stroke="#000" stroke-width="1.2"/>
<line x1="211.90" y1="605.40" x2="211.90" y2="602.30" stroke="#000" stroke-width="2.6"/>
<line x1="207.90" y1="602.30" x2="215.90" y2="602.30" stroke="#000" stroke-width="2.6"/>
<circle cx="211.60" cy="609.70" r="1.75" fill="#fff" stroke="#000" stroke-width="1.2"/>
<circle cx="219.50" cy="603.70" r="1.75" fill="#fff" stroke="#000" stroke-width="1.2"/>
<circle cx="211.60" cy="605.00" r="1.75" fill="#000" stroke="#000" stroke-width="1.2"/>
<line x1="240.50" y1="672.50" x2="240.50" y2="665.90" stroke="#000" stroke-width="2.6"/>
<line x1="236.00" y1="665.90" x2="245.00" y2="665.90" stroke="#000" stroke-width="2.6"/>
<circle cx="240.20" cy="663.80" r="1.75" fill="#fff" stroke="#000" stroke-width="1.2"/>
<circle cx="232.10" cy="674.00" r="1.75" fill="#000" stroke="#000" stroke-width="1.2"/>
<circle cx="249.00" cy="673.40" r="1.75" fill="#000" stroke="#000" stroke-width="1.2"/>
<line x1="269.00" y1="629.45" x2="269.00" y2="614.90" stroke="#000" stroke-width="2.6"/>
<line x1="264.50" y1="614.90" x2="273.50" y2="614.90" stroke="#000" stroke-width="2.6"/>
<circle cx="268.90" cy="612.80" r="1.75" fill="#fff" stroke="#000" stroke-width="1.2"/>
<circle cx="261.20" cy="636.60" r="1.75" fill="#000" stroke="#000" stroke-width="1.2"/>
<circle cx="276.50" cy="633.70" r="1.75" fill="#000" stroke="#000" stroke-width="1.2"/>
<line x1="297.50" y1="635.02" x2="297.50" y2="626.00" stroke="#000" stroke-width="2.6"/>
<line x1="293.50" y1="626.00" x2="301.50" y2="626.00" stroke="#000" stroke-width="2.6"/>
<circle cx="305.00" cy="628.80" r="1.75" fill="#fff" stroke="#000" stroke-width="1.2"/>
<circle cx="297.50" cy="641.00" r="1.75" fill="#fff" stroke="#000" stroke-width="1.2"/>
<circle cx="297.50" cy="630.50" r="1.75" fill="#000" stroke="#000" stroke-width="1.2"/>
<polyline points="78.90,567.40 78.90,563.00 165.10,563.00 165.10,567.40" fill="none" stroke="#000" stroke-width="2.4" stroke-linejoin="miter" stroke-linecap="butt"/>
<text x="122.55" y="568.27" font-size="18.4" text-anchor="middle" font-weight="bold" font-style="normal" fill="#000" letter-spacing="1.70">***</text>
<polyline points="78.20,580.00 78.20,576.50 132.20,576.50 132.20,580.00" fill="none" stroke="#000" stroke-width="2.4" stroke-linejoin="miter" stroke-linecap="butt"/>
<text x="109.25" y="581.07" font-size="18.4" text-anchor="middle" font-weight="bold" font-style="normal" fill="#000" letter-spacing="1.70">***</text>
<polyline points="78.40,588.40 105.90,588.40 105.90,592.30" fill="none" stroke="#000" stroke-width="2.4" stroke-linejoin="miter" stroke-linecap="butt"/>
<text x="93.75" y="593.57" font-size="18.4" text-anchor="middle" font-weight="bold" font-style="normal" fill="#000" letter-spacing="1.70">***</text>
<polyline points="211.60,576.90 211.60,572.90 298.40,572.90 298.40,576.90" fill="none" stroke="#000" stroke-width="2.4" stroke-linejoin="miter" stroke-linecap="butt"/>
<text x="261.95" y="578.07" font-size="18.4" text-anchor="middle" font-weight="bold" font-style="normal" fill="#000" letter-spacing="1.50">**</text>
<polyline points="211.60,587.40 211.60,582.70 270.30,582.70 270.30,587.40" fill="none" stroke="#000" stroke-width="2.4" stroke-linejoin="miter" stroke-linecap="butt"/>
<text x="243.15" y="589.57" font-size="18.4" text-anchor="middle" font-weight="bold" font-style="normal" fill="#000" letter-spacing="0.70">*</text>
<polyline points="211.60,600.20 238.80,600.20 238.80,603.70" fill="none" stroke="#000" stroke-width="2.4" stroke-linejoin="miter" stroke-linecap="butt"/>
<text x="227.05" y="603.57" font-size="18.4" text-anchor="middle" font-weight="bold" font-style="normal" fill="#000" letter-spacing="1.30">****</text>
<rect x="112.30" y="528.50" width="16.50" height="3.80" fill="#d3d3d3" stroke="#000" stroke-width="2.6"/>
<rect x="112.30" y="543.20" width="16.50" height="3.30" fill="#d3f6e8" stroke="#000" stroke-width="2.6"/>
<rect x="200.00" y="528.60" width="16.80" height="3.60" fill="#c8dcf6" stroke="#000" stroke-width="2.6"/>
<rect x="200.50" y="543.60" width="17.40" height="3.60" fill="#86a6d2" stroke="#000" stroke-width="2.6"/>
<text x="141.20" y="534.40" font-size="13" text-anchor="start" font-weight="bold" font-style="normal" fill="#000" textLength="32.34" lengthAdjust="spacingAndGlyphs">siCtrl</text>
<text x="141.20" y="548.60" font-size="13" text-anchor="start" font-weight="bold" font-style="normal" fill="#000" textLength="45.42" lengthAdjust="spacingAndGlyphs">siHuR-1</text>
<text x="228.80" y="534.40" font-size="13" text-anchor="start" font-weight="bold" font-style="normal" fill="#000">siHuR-2</text>
<text x="229.90" y="549.20" font-size="13" text-anchor="start" font-weight="bold" font-style="normal" fill="#000">siHuR-3</text>
<text x="121.80" y="751.70" font-size="13.5" text-anchor="middle" font-weight="bold" font-style="italic" fill="#000">HuR</text>
<text x="255.20" y="751.90" font-size="13.5" text-anchor="middle" font-weight="bold" font-style="italic" fill="#000">LINC00152</text>
<text x="13.80" y="633.80" font-size="17.7" text-anchor="middle" font-weight="bold" font-style="normal" fill="#000" transform="rotate(-90 13.80 633.80)">RNA Expression</text>
<text x="34.30" y="636.40" font-size="17.6" text-anchor="middle" font-weight="bold" font-style="normal" fill="#000" transform="rotate(-90 34.30 636.40)">(Relative to <tspan font-style="italic">GAPDH</tspan>)</text>
<text x="391.20" y="522.20" font-size="19.8" text-anchor="start" font-weight="bold" font-style="normal" fill="#000">G</text>
<line x1="449.40" y1="542.00" x2="449.40" y2="630.50" stroke="#000" stroke-width="2.6"/>
<line x1="449.40" y1="644.80" x2="449.40" y2="733.30" stroke="#000" stroke-width="2.6"/>
<line x1="444.40" y1="586.60" x2="449.40" y2="586.60" stroke="#000" stroke-width="2.75"/>
<line x1="444.40" y1="543.40" x2="449.40" y2="543.40" stroke="#000" stroke-width="2.75"/>
<line x1="444.40" y1="732.00" x2="449.40" y2="732.00" stroke="#000" stroke-width="2.75"/>
<line x1="444.40" y1="710.35" x2="449.40" y2="710.35" stroke="#000" stroke-width="2.75"/>
<line x1="444.40" y1="688.70" x2="449.40" y2="688.70" stroke="#000" stroke-width="2.75"/>
<line x1="444.40" y1="667.05" x2="449.40" y2="667.05" stroke="#000" stroke-width="2.75"/>
<line x1="444.90" y1="630.50" x2="453.90" y2="630.50" stroke="#000" stroke-width="2.4"/>
<line x1="444.90" y1="645.00" x2="453.90" y2="645.00" stroke="#000" stroke-width="2.4"/>
<text x="443.20" y="634.80" font-size="14.3" text-anchor="end" font-weight="bold" font-style="normal" fill="#000" textLength="15.92" lengthAdjust="spacingAndGlyphs">10</text>
<text x="443.20" y="591.60" font-size="14.3" text-anchor="end" font-weight="bold" font-style="normal" fill="#000" textLength="15.76" lengthAdjust="spacingAndGlyphs">15</text>
<text x="443.20" y="548.40" font-size="14.3" text-anchor="end" font-weight="bold" font-style="normal" fill="#000" textLength="15.46" lengthAdjust="spacingAndGlyphs">20</text>
<text x="443.20" y="737.00" font-size="14.3" text-anchor="end" font-weight="bold" font-style="normal" fill="#000" textLength="20.80" lengthAdjust="spacingAndGlyphs">0.0</text>
<text x="443.20" y="715.35" font-size="14.3" text-anchor="end" font-weight="bold" font-style="normal" fill="#000" textLength="20.64" lengthAdjust="spacingAndGlyphs">0.5</text>
<text x="443.20" y="693.70" font-size="14.3" text-anchor="end" font-weight="bold" font-style="normal" fill="#000" textLength="21.12" lengthAdjust="spacingAndGlyphs">1.0</text>
<text x="443.20" y="672.05" font-size="14.3" text-anchor="end" font-weight="bold" font-style="normal" fill="#000" textLength="20.96" lengthAdjust="spacingAndGlyphs">1.5</text>
<text x="443.20" y="650.40" font-size="14.3" text-anchor="end" font-weight="bold" font-style="normal" fill="#000" textLength="20.64" lengthAdjust="spacingAndGlyphs">2.0</text>
<line x1="448.10" y1="732.00" x2="638.30" y2="732.00" stroke="#000" stroke-width="2.5"/>
<line x1="493.20" y1="732.00" x2="493.20" y2="737.50" stroke="#000" stroke-width="2.4"/>
<line x1="593.10" y1="732.00" x2="593.10" y2="737.50" stroke="#000" stroke-width="2.4"/>
<rect x="463.90" y="689.57" width="22.20" height="42.43" fill="#fff" stroke="#000" stroke-width="2.4"/>
<rect x="501.7" y="584.53" width="21.7" height="45.97" fill="#fde1e1"/>
<rect x="501.7" y="645.0" width="21.7" height="87.00" fill="#fde1e1"/>
<polyline points="501.7,630.5 501.7,584.53 523.4,584.53 523.4,630.5" fill="none" stroke="#000" stroke-width="2.4"/>
<line x1="501.70" y1="645.00" x2="501.70" y2="732.00" stroke="#000" stroke-width="2.4"/>
<line x1="523.40" y1="645.00" x2="523.40" y2="732.00" stroke="#000" stroke-width="2.4"/>
<rect x="564.60" y="690.43" width="21.60" height="41.57" fill="#fff" stroke="#000" stroke-width="2.4"/>
<rect x="602.20" y="674.84" width="21.60" height="57.16" fill="#fde1e1" stroke="#000" stroke-width="2.4"/>
<line x1="475.00" y1="689.57" x2="475.00" y2="683.50" stroke="#000" stroke-width="2.6"/>
<line x1="469.50" y1="683.50" x2="480.50" y2="683.50" stroke="#000" stroke-width="2.6"/>
<circle cx="467.10" cy="692.00" r="1.75" fill="#fff" stroke="#000" stroke-width="1.2"/>
<circle cx="482.50" cy="690.40" r="1.75" fill="#fff" stroke="#000" stroke-width="1.2"/>
<circle cx="475.10" cy="682.70" r="1.75" fill="#fff" stroke="#000" stroke-width="1.2"/>
<line x1="512.60" y1="584.53" x2="512.60" y2="560.40" stroke="#000" stroke-width="2.6"/>
<line x1="506.50" y1="560.40" x2="518.70" y2="560.40" stroke="#000" stroke-width="2.6"/>
<circle cx="512.50" cy="563.30" r="1.75" fill="#000" stroke="#000" stroke-width="1.2"/>
<circle cx="512.50" cy="577.00" r="1.75" fill="#000" stroke="#000" stroke-width="1.2"/>
<circle cx="512.50" cy="608.00" r="1.75" fill="#fff" stroke="#000" stroke-width="1.2"/>
<line x1="575.40" y1="690.43" x2="575.40" y2="688.00" stroke="#000" stroke-width="2.4"/>
<line x1="570.90" y1="688.00" x2="579.90" y2="688.00" stroke="#000" stroke-width="2.4"/>
<circle cx="567.70" cy="689.80" r="1.75" fill="#fff" stroke="#000" stroke-width="1.2"/>
<circle cx="571.50" cy="687.20" r="1.75" fill="#fff" stroke="#000" stroke-width="1.2"/>
<circle cx="575.00" cy="685.70" r="1.75" fill="#fff" stroke="#000" stroke-width="1.2"/>
<circle cx="579.00" cy="687.20" r="1.75" fill="#fff" stroke="#000" stroke-width="1.2"/>
<circle cx="582.60" cy="689.10" r="1.75" fill="#fff" stroke="#000" stroke-width="1.2"/>
<line x1="612.70" y1="674.84" x2="612.70" y2="664.60" stroke="#000" stroke-width="2.6"/>
<line x1="606.75" y1="664.60" x2="618.65" y2="664.60" stroke="#000" stroke-width="2.6"/>
<circle cx="612.70" cy="662.40" r="1.75" fill="#000" stroke="#000" stroke-width="1.2"/>
<circle cx="612.70" cy="672.60" r="1.75" fill="#000" stroke="#000" stroke-width="1.2"/>
<circle cx="612.70" cy="680.60" r="1.75" fill="#fff" stroke="#000" stroke-width="1.2"/>
<polyline points="484.00,557.00 484.00,552.30 512.60,552.30" fill="none" stroke="#000" stroke-width="2.4" stroke-linejoin="miter" stroke-linecap="butt"/>
<line x1="512.60" y1="551.20" x2="512.60" y2="560.40" stroke="#000" stroke-width="2.4"/>
<text x="500.45" y="556.81" font-size="18.86" text-anchor="middle" font-weight="bold" font-style="normal" fill="#000" letter-spacing="1.50">***</text>
<polyline points="579.40,660.90 579.40,656.10 612.70,656.10" fill="none" stroke="#000" stroke-width="2.4" stroke-linejoin="miter" stroke-linecap="butt"/>
<line x1="612.70" y1="655.00" x2="612.70" y2="664.60" stroke="#000" stroke-width="2.4"/>
<text x="597.85" y="659.27" font-size="18.4" text-anchor="middle" font-weight="bold" font-style="normal" fill="#000" letter-spacing="0.70">*</text>
<rect x="545.40" y="593.90" width="17.40" height="3.20" fill="#fff" stroke="#000" stroke-width="2.6"/>
<rect x="545.40" y="607.90" width="17.40" height="3.50" fill="#fde1e1" stroke="#000" stroke-width="2.6"/>
<text x="576.00" y="599.70" font-size="13.2" text-anchor="start" font-weight="bold" font-style="normal" fill="#000" textLength="38.74" lengthAdjust="spacingAndGlyphs">Vector</text>
<text x="576.00" y="613.60" font-size="13.2" text-anchor="start" font-weight="bold" font-style="normal" fill="#000" textLength="26.42" lengthAdjust="spacingAndGlyphs">HuR</text>
<text x="493.80" y="750.80" font-size="14" text-anchor="middle" font-weight="bold" font-style="italic" fill="#000">HuR</text>
<text x="593.80" y="750.80" font-size="14" text-anchor="middle" font-weight="bold" font-style="italic" fill="#000">LINC00152</text>
<text x="395.20" y="636.50" font-size="18.3" text-anchor="middle" font-weight="bold" font-style="normal" fill="#000" transform="rotate(-90 395.20 636.50)">RNA Expression</text>
<text x="416.40" y="636.50" font-size="18" text-anchor="middle" font-weight="bold" font-style="normal" fill="#000" transform="rotate(-90 416.40 636.50)">(Relative to <tspan font-style="italic">GAPDH</tspan>)</text>
<text x="25.00" y="764.60" font-size="19" text-anchor="start" font-weight="bold" font-style="normal" fill="#000">H</text>
<line x1="58.10" y1="788.20" x2="58.10" y2="970.60" stroke="#000" stroke-width="2.6"/>
<line x1="53.10" y1="969.30" x2="58.10" y2="969.30" stroke="#000" stroke-width="2.75"/>
<text x="54.40" y="973.80" font-size="13" text-anchor="end" font-weight="bold" font-style="normal" fill="#000" textLength="19.52" lengthAdjust="spacingAndGlyphs">0.0</text>
<line x1="53.10" y1="933.50" x2="58.10" y2="933.50" stroke="#000" stroke-width="2.75"/>
<text x="54.40" y="938.00" font-size="13" text-anchor="end" font-weight="bold" font-style="normal" fill="#000" textLength="19.38" lengthAdjust="spacingAndGlyphs">0.5</text>
<line x1="53.10" y1="897.70" x2="58.10" y2="897.70" stroke="#000" stroke-width="2.75"/>
<text x="54.40" y="902.20" font-size="13" text-anchor="end" font-weight="bold" font-style="normal" fill="#000" textLength="19.83" lengthAdjust="spacingAndGlyphs">1.0</text>
<line x1="53.10" y1="861.90" x2="58.10" y2="861.90" stroke="#000" stroke-width="2.75"/>
<text x="54.40" y="866.40" font-size="13" text-anchor="end" font-weight="bold" font-style="normal" fill="#000" textLength="19.67" lengthAdjust="spacingAndGlyphs">1.5</text>
<line x1="53.10" y1="826.10" x2="58.10" y2="826.10" stroke="#000" stroke-width="2.75"/>
<text x="54.40" y="830.60" font-size="13" text-anchor="end" font-weight="bold" font-style="normal" fill="#000" textLength="19.38" lengthAdjust="spacingAndGlyphs">2.0</text>
<line x1="53.10" y1="790.30" x2="58.10" y2="790.30" stroke="#000" stroke-width="2.75"/>
<text x="54.40" y="794.80" font-size="13" text-anchor="end" font-weight="bold" font-style="normal" fill="#000" textLength="19.23" lengthAdjust="spacingAndGlyphs">2.5</text>
<line x1="56.80" y1="969.30" x2="289.00" y2="969.30" stroke="#000" stroke-width="2.5"/>
<line x1="113.10" y1="969.30" x2="113.10" y2="974.80" stroke="#000" stroke-width="2.4"/>
<line x1="232.70" y1="969.30" x2="232.70" y2="974.80" stroke="#000" stroke-width="2.4"/>
<rect x="70.80" y="898.42" width="17.50" height="70.88" fill="#fff" stroke="#000" stroke-width="2.4"/>
<rect x="103.80" y="843.79" width="18.80" height="125.51" fill="#fde1e1" stroke="#000" stroke-width="2.4"/>
<rect x="136.70" y="878.51" width="18.50" height="90.79" fill="#d3f6e8" stroke="#000" stroke-width="2.4"/>
<rect x="190.80" y="898.77" width="18.50" height="70.53" fill="#fff" stroke="#000" stroke-width="2.4"/>
<rect x="223.40" y="867.99" width="19.20" height="101.31" fill="#fde1e1" stroke="#000" stroke-width="2.4"/>
<rect x="257.00" y="933.50" width="18.50" height="35.80" fill="#d3f6e8" stroke="#000" stroke-width="2.4"/>
<line x1="80.40" y1="898.42" x2="80.40" y2="890.50" stroke="#000" stroke-width="2.6"/>
<line x1="75.15" y1="890.50" x2="85.65" y2="890.50" stroke="#000" stroke-width="2.6"/>
<circle cx="80.40" cy="904.30" r="1.75" fill="#fff" stroke="#000" stroke-width="1.2"/>
<circle cx="80.40" cy="894.00" r="1.75" fill="#000" stroke="#000" stroke-width="1.2"/>
<line x1="113.00" y1="843.79" x2="113.00" y2="828.70" stroke="#000" stroke-width="2.6"/>
<line x1="107.90" y1="828.70" x2="118.10" y2="828.70" stroke="#000" stroke-width="2.6"/>
<circle cx="113.00" cy="854.80" r="1.75" fill="#fff" stroke="#000" stroke-width="1.2"/>
<circle cx="113.00" cy="842.00" r="1.75" fill="#000" stroke="#000" stroke-width="1.2"/>
<line x1="145.90" y1="878.51" x2="145.90" y2="868.30" stroke="#000" stroke-width="2.6"/>
<line x1="140.90" y1="868.30" x2="150.90" y2="868.30" stroke="#000" stroke-width="2.6"/>
<circle cx="145.90" cy="866.70" r="1.75" fill="#fff" stroke="#000" stroke-width="1.2"/>
<circle cx="138.40" cy="883.30" r="1.75" fill="#fff" stroke="#000" stroke-width="1.2"/>
<circle cx="152.80" cy="880.00" r="1.75" fill="#fff" stroke="#000" stroke-width="1.2"/>
<line x1="200.30" y1="898.77" x2="200.30" y2="890.40" stroke="#000" stroke-width="2.6"/>
<line x1="195.20" y1="890.40" x2="205.40" y2="890.40" stroke="#000" stroke-width="2.6"/>
<circle cx="207.60" cy="892.50" r="1.75" fill="#fff" stroke="#000" stroke-width="1.2"/>
<circle cx="200.10" cy="904.90" r="1.75" fill="#fff" stroke="#000" stroke-width="1.2"/>
<circle cx="200.30" cy="893.00" r="1.75" fill="#000" stroke="#000" stroke-width="1.2"/>
<line x1="233.00" y1="867.99" x2="233.00" y2="860.70" stroke="#000" stroke-width="2.6"/>
<line x1="227.90" y1="860.70" x2="238.10" y2="860.70" stroke="#000" stroke-width="2.6"/>
<circle cx="225.80" cy="870.70" r="1.75" fill="#fff" stroke="#000" stroke-width="1.2"/>
<circle cx="240.70" cy="867.90" r="1.75" fill="#000" stroke="#000" stroke-width="1.2"/>
<circle cx="233.00" cy="859.40" r="1.75" fill="#000" stroke="#000" stroke-width="1.2"/>
<line x1="266.20" y1="933.50" x2="266.20" y2="933.20" stroke="#000" stroke-width="2.6"/>
<line x1="261.70" y1="933.20" x2="270.70" y2="933.20" stroke="#000" stroke-width="2.6"/>
<circle cx="266.20" cy="936.00" r="1.75" fill="#000" stroke="#000" stroke-width="1.2"/>
<circle cx="272.60" cy="934.50" r="1.75" fill="#fff" stroke="#000" stroke-width="1.2"/>
<circle cx="259.50" cy="935.20" r="1.75" fill="#fff" stroke="#000" stroke-width="1.2"/>
<polyline points="75.70,826.00 75.70,821.20 113.00,821.20" fill="none" stroke="#000" stroke-width="2.4" stroke-linejoin="miter" stroke-linecap="butt"/>
<line x1="113.00" y1="820.00" x2="113.00" y2="828.70" stroke="#000" stroke-width="2.4"/>
<text x="94.75" y="825.97" font-size="18.4" text-anchor="middle" font-weight="bold" font-style="normal" fill="#000" letter-spacing="1.50">**</text>
<polyline points="115.40,817.70 154.00,817.70 154.00,822.20" fill="none" stroke="#000" stroke-width="2.4" stroke-linejoin="miter" stroke-linecap="butt"/>
<line x1="115.40" y1="816.50" x2="115.40" y2="822.40" stroke="#000" stroke-width="2.4"/>
<text x="135.05" y="824.17" font-size="18.4" text-anchor="middle" font-weight="bold" font-style="normal" fill="#000" letter-spacing="0.70">*</text>
<polyline points="196.10,858.30 196.10,854.00 233.00,854.00" fill="none" stroke="#000" stroke-width="2.4" stroke-linejoin="miter" stroke-linecap="butt"/>
<line x1="233.00" y1="852.80" x2="233.00" y2="860.70" stroke="#000" stroke-width="2.4"/>
<text x="216.95" y="858.57" font-size="18.4" text-anchor="middle" font-weight="bold" font-style="normal" fill="#000" letter-spacing="1.50">**</text>
<polyline points="232.50,846.20 270.70,846.20 270.70,850.70" fill="none" stroke="#000" stroke-width="2.4" stroke-linejoin="miter" stroke-linecap="butt"/>
<line x1="232.90" y1="845.00" x2="232.90" y2="860.70" stroke="#000" stroke-width="2.4"/>
<text x="253.45" y="850.67" font-size="18.4" text-anchor="middle" font-weight="bold" font-style="normal" fill="#000" letter-spacing="1.30">****</text>
<rect x="64.20" y="790.90" width="16.60" height="5.30" fill="#fff" stroke="#000" stroke-width="2.6"/>
<rect x="182.40" y="791.70" width="16.40" height="4.50" fill="#fde1e1" stroke="#000" stroke-width="2.6"/>
<rect x="182.40" y="805.60" width="16.40" height="4.60" fill="#d3f6e8" stroke="#000" stroke-width="2.6"/>
<text x="93.20" y="798.50" font-size="13.3" text-anchor="start" font-weight="bold" font-style="normal" fill="#000" textLength="81.06" lengthAdjust="spacingAndGlyphs">TGF-β- siCtrl</text>
<text x="211.60" y="798.40" font-size="13.3" text-anchor="start" font-weight="bold" font-style="normal" fill="#000" textLength="84.88" lengthAdjust="spacingAndGlyphs">TGF-β+ siCtrl</text>
<text x="211.60" y="812.30" font-size="13.3" text-anchor="start" font-weight="bold" font-style="normal" fill="#000" textLength="88.44" lengthAdjust="spacingAndGlyphs">TGF-β+ siHuR</text>
<text x="113.40" y="987.40" font-size="13.5" text-anchor="middle" font-weight="bold" font-style="italic" fill="#000">LINC00152</text>
<text x="233.40" y="987.40" font-size="13.5" text-anchor="middle" font-weight="bold" font-style="italic" fill="#000">HuR</text>
<text x="13.10" y="876.10" font-size="17.3" text-anchor="middle" font-weight="bold" font-style="normal" fill="#000" transform="rotate(-90 13.10 876.10)">RNA Expression</text>
<text x="33.20" y="877.70" font-size="17.3" text-anchor="middle" font-weight="bold" font-style="normal" fill="#000" transform="rotate(-90 33.20 877.70)">(Relative to <tspan font-style="italic">GAPDH</tspan>)</text>
<text x="415.20" y="759.30" font-size="19.5" text-anchor="start" font-weight="bold" font-style="normal" fill="#000">I</text>
<line x1="450.30" y1="786.00" x2="450.30" y2="968.50" stroke="#000" stroke-width="2.2"/>
<line x1="445.30" y1="967.50" x2="450.30" y2="967.50" stroke="#000" stroke-width="2.0"/>
<text x="444.20" y="972.40" font-size="14" text-anchor="end" font-weight="normal" font-style="normal" fill="#000" stroke="#000" stroke-width="0.45" textLength="19.95" lengthAdjust="spacingAndGlyphs">0.0</text>
<line x1="445.30" y1="907.20" x2="450.30" y2="907.20" stroke="#000" stroke-width="2.0"/>
<text x="444.20" y="912.10" font-size="14" text-anchor="end" font-weight="normal" font-style="normal" fill="#000" stroke="#000" stroke-width="0.45" textLength="20.10" lengthAdjust="spacingAndGlyphs">0.5</text>
<line x1="445.30" y1="846.90" x2="450.30" y2="846.90" stroke="#000" stroke-width="2.0"/>
<text x="444.20" y="851.80" font-size="14" text-anchor="end" font-weight="normal" font-style="normal" fill="#000" stroke="#000" stroke-width="0.45" textLength="20.58" lengthAdjust="spacingAndGlyphs">1.0</text>
<line x1="445.30" y1="786.60" x2="450.30" y2="786.60" stroke="#000" stroke-width="2.0"/>
<text x="444.20" y="791.50" font-size="14" text-anchor="end" font-weight="normal" font-style="normal" fill="#000" stroke="#000" stroke-width="0.45" textLength="20.74" lengthAdjust="spacingAndGlyphs">1.5</text>
<line x1="449.30" y1="967.50" x2="681.20" y2="967.50" stroke="#000" stroke-width="2.2"/>
<line x1="473.80" y1="967.50" x2="473.80" y2="972.50" stroke="#000" stroke-width="2.0"/>
<text x="473.80" y="984.50" font-size="14" text-anchor="middle" font-weight="normal" font-style="normal" fill="#000" stroke="#000" stroke-width="0.45">0</text>
<line x1="510.40" y1="967.50" x2="510.40" y2="972.50" stroke="#000" stroke-width="2.0"/>
<text x="510.40" y="984.50" font-size="14" text-anchor="middle" font-weight="normal" font-style="normal" fill="#000" stroke="#000" stroke-width="0.45">2</text>
<line x1="547.00" y1="967.50" x2="547.00" y2="972.50" stroke="#000" stroke-width="2.0"/>
<text x="547.00" y="984.50" font-size="14" text-anchor="middle" font-weight="normal" font-style="normal" fill="#000" stroke="#000" stroke-width="0.45">4</text>
<line x1="583.60" y1="967.50" x2="583.60" y2="972.50" stroke="#000" stroke-width="2.0"/>
<text x="583.60" y="984.50" font-size="14" text-anchor="middle" font-weight="normal" font-style="normal" fill="#000" stroke="#000" stroke-width="0.45">6</text>
<line x1="620.20" y1="967.50" x2="620.20" y2="972.50" stroke="#000" stroke-width="2.0"/>
<text x="620.20" y="984.50" font-size="14" text-anchor="middle" font-weight="normal" font-style="normal" fill="#000" stroke="#000" stroke-width="0.45">8</text>
<line x1="656.80" y1="967.50" x2="656.80" y2="972.50" stroke="#000" stroke-width="2.0"/>
<text x="656.80" y="984.50" font-size="14" text-anchor="middle" font-weight="normal" font-style="normal" fill="#000" stroke="#000" stroke-width="0.45">10</text>
<text x="454.00" y="984.60" font-size="13.6" text-anchor="end" font-weight="normal" font-style="normal" fill="#000" stroke="#000" stroke-width="0.45">Hours</text>
<text x="399.00" y="998.80" font-size="15.2" text-anchor="start" font-weight="bold" font-style="normal" fill="#000">The following addition of Actinomycin D</text>
<polyline points="473.80,848.11 510.40,914.44 547.00,924.69 583.60,915.64 620.20,946.03 656.80,949.65" fill="none" stroke="#0f9a66" stroke-width="2.6" stroke-linejoin="round"/>
<line x1="473.80" y1="858.96" x2="473.80" y2="837.25" stroke="#0f9a66" stroke-width="2.0"/>
<line x1="471.20" y1="837.25" x2="476.40" y2="837.25" stroke="#0f9a66" stroke-width="2.0"/>
<line x1="471.20" y1="858.96" x2="476.40" y2="858.96" stroke="#0f9a66" stroke-width="2.0"/>
<rect x="471.50" y="845.81" width="4.60" height="4.60" fill="#0f9a66"/>
<line x1="510.40" y1="918.05" x2="510.40" y2="910.82" stroke="#0f9a66" stroke-width="2.0"/>
<line x1="507.80" y1="910.82" x2="513.00" y2="910.82" stroke="#0f9a66" stroke-width="2.0"/>
<line x1="507.80" y1="918.05" x2="513.00" y2="918.05" stroke="#0f9a66" stroke-width="2.0"/>
<rect x="508.10" y="912.14" width="4.60" height="4.60" fill="#0f9a66"/>
<line x1="547.00" y1="928.31" x2="547.00" y2="921.07" stroke="#0f9a66" stroke-width="2.0"/>
<line x1="544.40" y1="921.07" x2="549.60" y2="921.07" stroke="#0f9a66" stroke-width="2.0"/>
<line x1="544.40" y1="928.31" x2="549.60" y2="928.31" stroke="#0f9a66" stroke-width="2.0"/>
<rect x="544.70" y="922.39" width="4.60" height="4.60" fill="#0f9a66"/>
<line x1="583.60" y1="919.86" x2="583.60" y2="911.42" stroke="#0f9a66" stroke-width="2.0"/>
<line x1="581.00" y1="911.42" x2="586.20" y2="911.42" stroke="#0f9a66" stroke-width="2.0"/>
<line x1="581.00" y1="919.86" x2="586.20" y2="919.86" stroke="#0f9a66" stroke-width="2.0"/>
<rect x="581.30" y="913.34" width="4.60" height="4.60" fill="#0f9a66"/>
<line x1="620.20" y1="947.00" x2="620.20" y2="945.07" stroke="#0f9a66" stroke-width="2.0"/>
<line x1="617.60" y1="945.07" x2="622.80" y2="945.07" stroke="#0f9a66" stroke-width="2.0"/>
<line x1="617.60" y1="947.00" x2="622.80" y2="947.00" stroke="#0f9a66" stroke-width="2.0"/>
<rect x="617.90" y="943.73" width="4.60" height="4.60" fill="#0f9a66"/>
<line x1="656.80" y1="950.62" x2="656.80" y2="948.69" stroke="#0f9a66" stroke-width="2.0"/>
<line x1="654.20" y1="948.69" x2="659.40" y2="948.69" stroke="#0f9a66" stroke-width="2.0"/>
<line x1="654.20" y1="950.62" x2="659.40" y2="950.62" stroke="#0f9a66" stroke-width="2.0"/>
<rect x="654.50" y="947.35" width="4.60" height="4.60" fill="#0f9a66"/>
<polyline points="473.80,846.90 510.40,913.23 547.00,908.41 583.60,892.12 620.20,918.05 656.80,932.53" fill="none" stroke="#626262" stroke-width="2.6" stroke-linejoin="round"/>
<line x1="473.80" y1="858.96" x2="473.80" y2="834.84" stroke="#626262" stroke-width="2.0"/>
<line x1="471.20" y1="834.84" x2="476.40" y2="834.84" stroke="#626262" stroke-width="2.0"/>
<line x1="471.20" y1="858.96" x2="476.40" y2="858.96" stroke="#626262" stroke-width="2.0"/>
<rect x="471.50" y="844.60" width="4.60" height="4.60" fill="#626262"/>
<line x1="510.40" y1="915.64" x2="510.40" y2="910.82" stroke="#626262" stroke-width="2.0"/>
<line x1="507.80" y1="910.82" x2="513.00" y2="910.82" stroke="#626262" stroke-width="2.0"/>
<line x1="507.80" y1="915.64" x2="513.00" y2="915.64" stroke="#626262" stroke-width="2.0"/>
<rect x="508.10" y="910.93" width="4.60" height="4.60" fill="#626262"/>
<line x1="547.00" y1="919.26" x2="547.00" y2="897.55" stroke="#626262" stroke-width="2.0"/>
<line x1="544.40" y1="897.55" x2="549.60" y2="897.55" stroke="#626262" stroke-width="2.0"/>
<line x1="544.40" y1="919.26" x2="549.60" y2="919.26" stroke="#626262" stroke-width="2.0"/>
<rect x="544.70" y="906.11" width="4.60" height="4.60" fill="#626262"/>
<line x1="583.60" y1="899.36" x2="583.60" y2="884.89" stroke="#626262" stroke-width="2.0"/>
<line x1="581.00" y1="884.89" x2="586.20" y2="884.89" stroke="#626262" stroke-width="2.0"/>
<line x1="581.00" y1="899.36" x2="586.20" y2="899.36" stroke="#626262" stroke-width="2.0"/>
<rect x="581.30" y="889.83" width="4.60" height="4.60" fill="#626262"/>
<line x1="620.20" y1="921.07" x2="620.20" y2="915.04" stroke="#626262" stroke-width="2.0"/>
<line x1="617.60" y1="915.04" x2="622.80" y2="915.04" stroke="#626262" stroke-width="2.0"/>
<line x1="617.60" y1="921.07" x2="622.80" y2="921.07" stroke="#626262" stroke-width="2.0"/>
<rect x="617.90" y="915.75" width="4.60" height="4.60" fill="#626262"/>
<line x1="656.80" y1="934.34" x2="656.80" y2="930.72" stroke="#626262" stroke-width="2.0"/>
<line x1="654.20" y1="930.72" x2="659.40" y2="930.72" stroke="#626262" stroke-width="2.0"/>
<line x1="654.20" y1="934.34" x2="659.40" y2="934.34" stroke="#626262" stroke-width="2.0"/>
<rect x="654.50" y="930.23" width="4.60" height="4.60" fill="#626262"/>
<line x1="454.70" y1="812.90" x2="471.30" y2="812.90" stroke="#626262" stroke-width="2.6"/>
<circle cx="463.00" cy="812.90" r="2.2" fill="#626262"/>
<line x1="454.70" y1="828.50" x2="471.30" y2="828.50" stroke="#0f9a66" stroke-width="2.6"/>
<rect x="460.90" y="826.40" width="4.20" height="4.20" fill="#0f9a66"/>
<text x="481.40" y="816.60" font-size="12.9" text-anchor="start" font-weight="bold" font-style="normal" fill="#000" textLength="81.43" lengthAdjust="spacingAndGlyphs">TGF-β+ siCtrl</text>
<text x="481.40" y="831.60" font-size="12.9" text-anchor="start" font-weight="bold" font-style="normal" fill="#000" textLength="84.22" lengthAdjust="spacingAndGlyphs">TGF-β+ siHuR</text>
<polyline points="660,930 664.3,930 664.3,950.6 660,950.6" fill="none" stroke="#000" stroke-width="2.0"/>
<text x="0" y="0" font-size="17.94" text-anchor="middle" font-weight="bold" letter-spacing="0.70" transform="translate(661.67 940.95) rotate(90)">****</text>
<text x="396.30" y="1000.80" font-size="17.6" text-anchor="start" font-weight="bold" font-style="normal" fill="#000" transform="rotate(-90 396.30 1000.80)"><tspan font-style="italic">LINC00152</tspan> mRNA Expression</text>
<text x="416.00" y="875.60" font-size="17.4" text-anchor="middle" font-weight="bold" font-style="normal" fill="#000" transform="rotate(-90 416.00 875.60)">(Relative to <tspan font-style="italic">GAPDH</tspan>)</text>
</svg></body></html>
